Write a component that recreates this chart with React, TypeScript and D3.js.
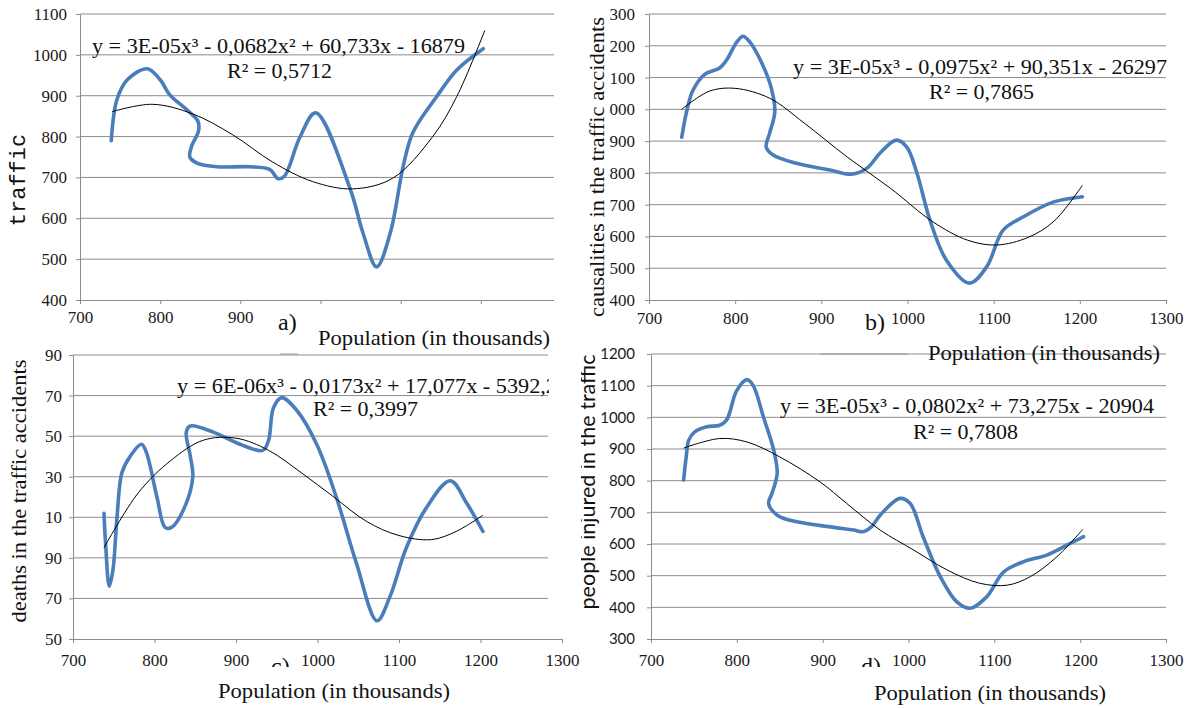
import React, { useEffect, useRef } from "react";
import * as d3 from "d3";

// shared x axis: population (thousands)
const popTicks = [700, 800, 900, 1000, 1100, 1200, 1300];

// a) traffic accidents
const trafficPop = [739, 746, 759, 784, 800, 812, 833, 847, 848, 839, 837, 846, 871, 912, 937, 947, 955, 974, 994, 1037, 1053, 1070, 1087, 1103, 1115, 1145, 1170, 1203];
const trafficVal = [790, 890, 939, 966, 939, 902, 866, 838, 815, 775, 750, 735, 726, 726, 719, 697, 703, 797, 858, 672, 564, 481, 564, 726, 809, 898, 963, 1015];
const trafficTrendPop = [740, 790, 840, 890, 940, 990, 1040, 1090, 1140, 1170, 1205];
const trafficTrendVal = [861, 879, 856, 805, 738, 690, 672, 698, 800, 898, 1060];
const trafficTicks = [400, 500, 600, 700, 800, 900, 1000, 1100];

// b) casualties
const casualPop = [738, 744, 751, 765, 782, 790, 802, 809, 817, 831, 842, 846, 840, 836, 844, 871, 910, 935, 953, 968, 987, 999, 1011, 1026, 1045, 1072, 1092, 1111, 1134, 1169, 1203];
const casualVal = [912, 997, 1060, 1111, 1130, 1155, 1212, 1230, 1212, 1145, 1066, 992, 925, 882, 856, 830, 809, 796, 815, 862, 903, 882, 799, 652, 526, 453, 505, 620, 661, 708, 725];
const casualTrendPop = [738, 770, 800, 840, 880, 930, 980, 1030, 1070, 1103, 1140, 1170, 1203];
const casualTrendVal = [1000, 1057, 1066, 1035, 957, 850, 752, 645, 588, 573, 597, 648, 761];
const casualTicks = [400, 500, 600, 700, 800, 900, 1000, 1100, 1200, 1300];

// c) deaths
const deathPop = [738, 740, 744.5, 749, 754, 760, 770, 784, 790, 803, 813, 821, 837, 847, 844, 839, 844, 872, 905, 933, 940, 946, 956, 974, 999, 1023, 1048, 1073, 1089, 1109, 1134, 1163, 1183, 1203];
const deathVal = [112, 97, 76, 84, 110, 132, 140, 146, 142, 120, 105, 105, 115, 130, 140, 152, 155, 152, 146, 143, 148, 164, 169, 163, 146, 120, 87, 59, 71, 95, 115, 128, 117, 103];
const deathTrendPop = [738, 780, 820, 860, 900, 940, 980, 1020, 1060, 1100, 1140, 1170, 1203];
const deathTrendVal = [95, 122, 138, 148, 149, 143, 132, 120, 108, 101, 99, 103, 111];
const deathTicks = [50, 70, 90, 110, 130, 150, 170, 190];

// d) injured
const injuredPop = [738, 741, 744, 751, 765, 780, 788, 800, 812, 819, 831, 843, 847, 841, 837, 847, 870, 909, 936, 947, 957, 967, 990, 1002, 1017, 1037, 1056, 1072, 1091, 1111, 1134, 1161, 1185, 1204];
const injuredVal = [802, 875, 928, 954, 970, 975, 991, 1085, 1119, 1101, 1001, 896, 823, 760, 728, 691, 670, 654, 644, 639, 655, 691, 744, 728, 623, 497, 418, 397, 433, 512, 544, 565, 597, 623];
const injuredTrendPop = [738, 780, 812, 850, 897, 928, 967, 1006, 1045, 1083, 1115, 1142, 1173, 1203];
const injuredTrendVal = [903, 933, 922, 875, 796, 728, 644, 581, 518, 476, 470, 497, 560, 646];
const injuredTicks = [300, 400, 500, 600, 700, 800, 900, 1000, 1100, 1200];

const serif = "'Liberation Serif', 'Times New Roman', serif";
const sans = "Lato, 'Open Sans', sans-serif";
const mono = "'Liberation Mono', 'Courier New', monospace";
const blue = "#4a7ebb";
const grid = "#8c8c8c";

const panels = [
  {
    id: "a", pop: trafficPop, val: trafficVal, tPop: trafficTrendPop, tVal: trafficTrendVal,
    yTicks: trafficTicks, yFmt: (d: number) => String(d), yFont: serif,
    left: 80, right: 561, top: 14, bottom: 300, gridRight: 554, clipRight: 554, yPad: 9, xPad: 7,
    eq: "y = 3E-05x³ - 0,0682x² + 60,733x - 16879", eqX: 92, eqY: 53, eqLen: 373,
    r2: "R² = 0,5712", r2X: 227, r2Y: 78,
  },
  {
    id: "b", pop: casualPop, val: casualVal, tPop: casualTrendPop, tVal: casualTrendVal,
    yTicks: casualTicks, yFmt: (d: number) => String(d).slice(-3), yFont: serif,
    left: 649, right: 1166, top: 14, bottom: 300, gridRight: 1166, clipRight: 1185, yPad: 10, xPad: 8,
    eq: "y = 3E-05x³ - 0,0975x² + 90,351x - 26297", eqX: 793, eqY: 74, eqLen: 374,
    r2: "R² = 0,7865", r2X: 929, r2Y: 99,
  },
  {
    id: "c", pop: deathPop, val: deathVal, tPop: deathTrendPop, tVal: deathTrendVal,
    yTicks: deathTicks, yFmt: (d: number) => String(d).slice(-2), yFont: serif,
    left: 73, right: 562, top: 355, bottom: 639, gridRight: 548, clipRight: 580, yPad: 7, xPad: 11,
    eq: "y = 6E-06x³ - 0,0173x² + 17,077x - 5392,2", eqX: 177, eqY: 393, eqLen: 380,
    r2: "R² = 0,3997", r2X: 313, r2Y: 416,
  },
  {
    id: "d", pop: injuredPop, val: injuredVal, tPop: injuredTrendPop, tVal: injuredTrendVal,
    yTicks: injuredTicks, yFmt: (d: number) => String(d), yFont: sans,
    left: 651, right: 1166, top: 354, bottom: 639, gridRight: 1166, clipRight: 1185, yPad: 12, xPad: 11,
    eq: "y = 3E-05x³ - 0,0802x² + 73,275x - 20904", eqX: 780, eqY: 413, eqLen: 374,
    r2: "R² = 0,7808", r2X: 913, r2Y: 439,
  },
];

export default function App() {
  const ref = useRef<SVGSVGElement>(null);

  useEffect(() => {
    const svg = d3.select(ref.current);
    svg.selectAll("*").remove();
    const defs = svg.append("defs");

    panels.forEach((p) => {
      const x = d3.scaleLinear().domain([700, 1300]).range([p.left, p.right]);
      const y = d3.scaleLinear()
        .domain([p.yTicks[0], p.yTicks[p.yTicks.length - 1]])
        .range([p.bottom, p.top]);

      defs.append("clipPath").attr("id", `clip-${p.id}`)
        .append("rect")
        .attr("x", p.left - 70).attr("y", p.top - 20)
        .attr("width", p.clipRight - p.left + 70).attr("height", p.bottom - p.top + 60);

      const g = svg.append("g").attr("clip-path", `url(#clip-${p.id})`);

      // horizontal gridlines
      g.append("g").selectAll("line")
        .data(p.yTicks.slice(1))
        .join("line")
        .attr("x1", p.left).attr("x2", p.gridRight)
        .attr("y1", (d) => y(d)).attr("y2", (d) => y(d))
        .attr("stroke", grid).attr("stroke-width", 1);

      const ya = g.append("g")
        .attr("transform", `translate(${p.left},0)`)
        .call(d3.axisLeft(y).tickValues(p.yTicks).tickSize(4).tickSizeOuter(0)
          .tickPadding(p.yPad).tickFormat((d: any) => p.yFmt(+d)));
      const xa = g.append("g")
        .attr("transform", `translate(0,${p.bottom})`)
        .call(d3.axisBottom(x).tickValues(popTicks).tickSize(4).tickSizeOuter(0)
          .tickPadding(p.xPad).tickFormat(d3.format("d")));

      [ya, xa].forEach((a) => {
        a.select(".domain").attr("stroke", grid);
        a.selectAll(".tick line").attr("stroke", grid);
        a.selectAll("text").attr("fill", "#1a1a1a")
          .style("font-family", serif).style("font-size", "17px");
      });
      if (p.yFont === sans) ya.selectAll("text").style("font-family", sans).style("font-size", "15px");

      const blueLine = d3.line<number>()
        .x((d, i) => x(p.pop[i]))
        .y((d) => y(d))
        .curve(d3.curveCatmullRom.alpha(0.5));
      const trendLine = d3.line<number>()
        .x((d, i) => x(p.tPop[i]))
        .y((d) => y(d))
        .curve(d3.curveCatmullRom.alpha(0.5));

      svg.append("path").attr("d", blueLine(p.val))
        .attr("fill", "none").attr("stroke", blue).attr("stroke-width", 3.6)
        .attr("stroke-linecap", "round").attr("stroke-linejoin", "round");
      svg.append("path").attr("d", trendLine(p.tVal))
        .attr("fill", "none").attr("stroke", "#000").attr("stroke-width", 1);
    });

    const txt = (t: string, xx: number, yy: number, size: number, family = serif) =>
      svg.append("text").attr("x", xx).attr("y", yy).attr("fill", "#111")
        .style("font-family", family).style("font-size", `${size}px`).text(t);

    // panel letters
    txt("a)", 278, 330, 24);
    txt("b)", 865, 330, 24);
    txt("c)", 271, 674, 24);
    txt("d)", 861, 674, 24);

    // white boxes behind the x titles
    svg.append("rect").attr("x", 300).attr("y", 312).attr("width", 262).attr("height", 42).attr("fill", "#fff");
    svg.append("rect").attr("x", 200).attr("y", 667).attr("width", 280).attr("height", 41).attr("fill", "#fff");
    svg.append("rect").attr("x", 850).attr("y", 667).attr("width", 280).attr("height", 41).attr("fill", "#fff");

    // small frame remnants
    svg.append("line").attr("x1", 280).attr("x2", 298).attr("y1", 354).attr("y2", 354).attr("stroke", "#999");
    svg.append("line").attr("x1", 820).attr("x2", 908).attr("y1", 354).attr("y2", 354).attr("stroke", "#999");

    // x titles
    const popTitle = "Population (in thousands)";
    [[318, 345], [928, 360], [218, 698], [874, 700]].forEach(([px, py]) => {
      txt(popTitle, px, py, 22).attr("textLength", 232).attr("lengthAdjust", "spacingAndGlyphs");
    });

    // y titles
    svg.append("text").attr("transform", "translate(25,180) rotate(-90)")
      .attr("text-anchor", "middle").attr("fill", "#111")
      .style("font-family", mono).style("font-size", "22px").text("traffic");
    svg.append("text").attr("transform", "translate(604,167) rotate(-90)")
      .attr("text-anchor", "middle").attr("fill", "#111")
      .attr("textLength", 300).attr("lengthAdjust", "spacingAndGlyphs")
      .style("font-family", serif).style("font-size", "22px").text("causalities in the traffic accidents");
    svg.append("text").attr("transform", "translate(26,491) rotate(-90)")
      .attr("text-anchor", "middle").attr("fill", "#111")
      .attr("textLength", 263).attr("lengthAdjust", "spacingAndGlyphs")
      .style("font-family", serif).style("font-size", "22px").text("deaths in the traffic accidents");
    defs.append("clipPath").attr("id", "clip-dlabel")
      .append("rect").attr("x", 581).attr("y", 330).attr("width", 40).attr("height", 300);
    svg.append("g").attr("clip-path", "url(#clip-dlabel)")
      .append("text").attr("transform", "translate(595,482) rotate(-90)")
      .attr("text-anchor", "middle").attr("fill", "#111")
      .attr("textLength", 255).attr("lengthAdjust", "spacingAndGlyphs")
      .style("font-family", sans).style("font-size", "22px").text("people injured in the traffic");

    // trendline equations
    defs.append("clipPath").attr("id", "clip-eqc")
      .append("rect").attr("x", 0).attr("y", 360).attr("width", 549).attr("height", 60);
    panels.forEach((p) => {
      const host = p.id === "c" ? svg.append("g").attr("clip-path", "url(#clip-eqc)") : svg;
      host.append("text").attr("x", p.eqX).attr("y", p.eqY).attr("fill", "#111")
        .attr("textLength", p.eqLen).attr("lengthAdjust", "spacingAndGlyphs")
        .style("font-family", serif).style("font-size", "22px").text(p.eq);
      txt(p.r2, p.r2X, p.r2Y, 22).attr("textLength", 105).attr("lengthAdjust", "spacingAndGlyphs");
    });
  }, []);

  return (
    <div style={{ position: "absolute", left: 0, top: 0, background: "#fff" }}>
      <svg ref={ref} width={1190} height={708} style={{ display: "block", background: "#fff" }} />
    </div>
  );
}
